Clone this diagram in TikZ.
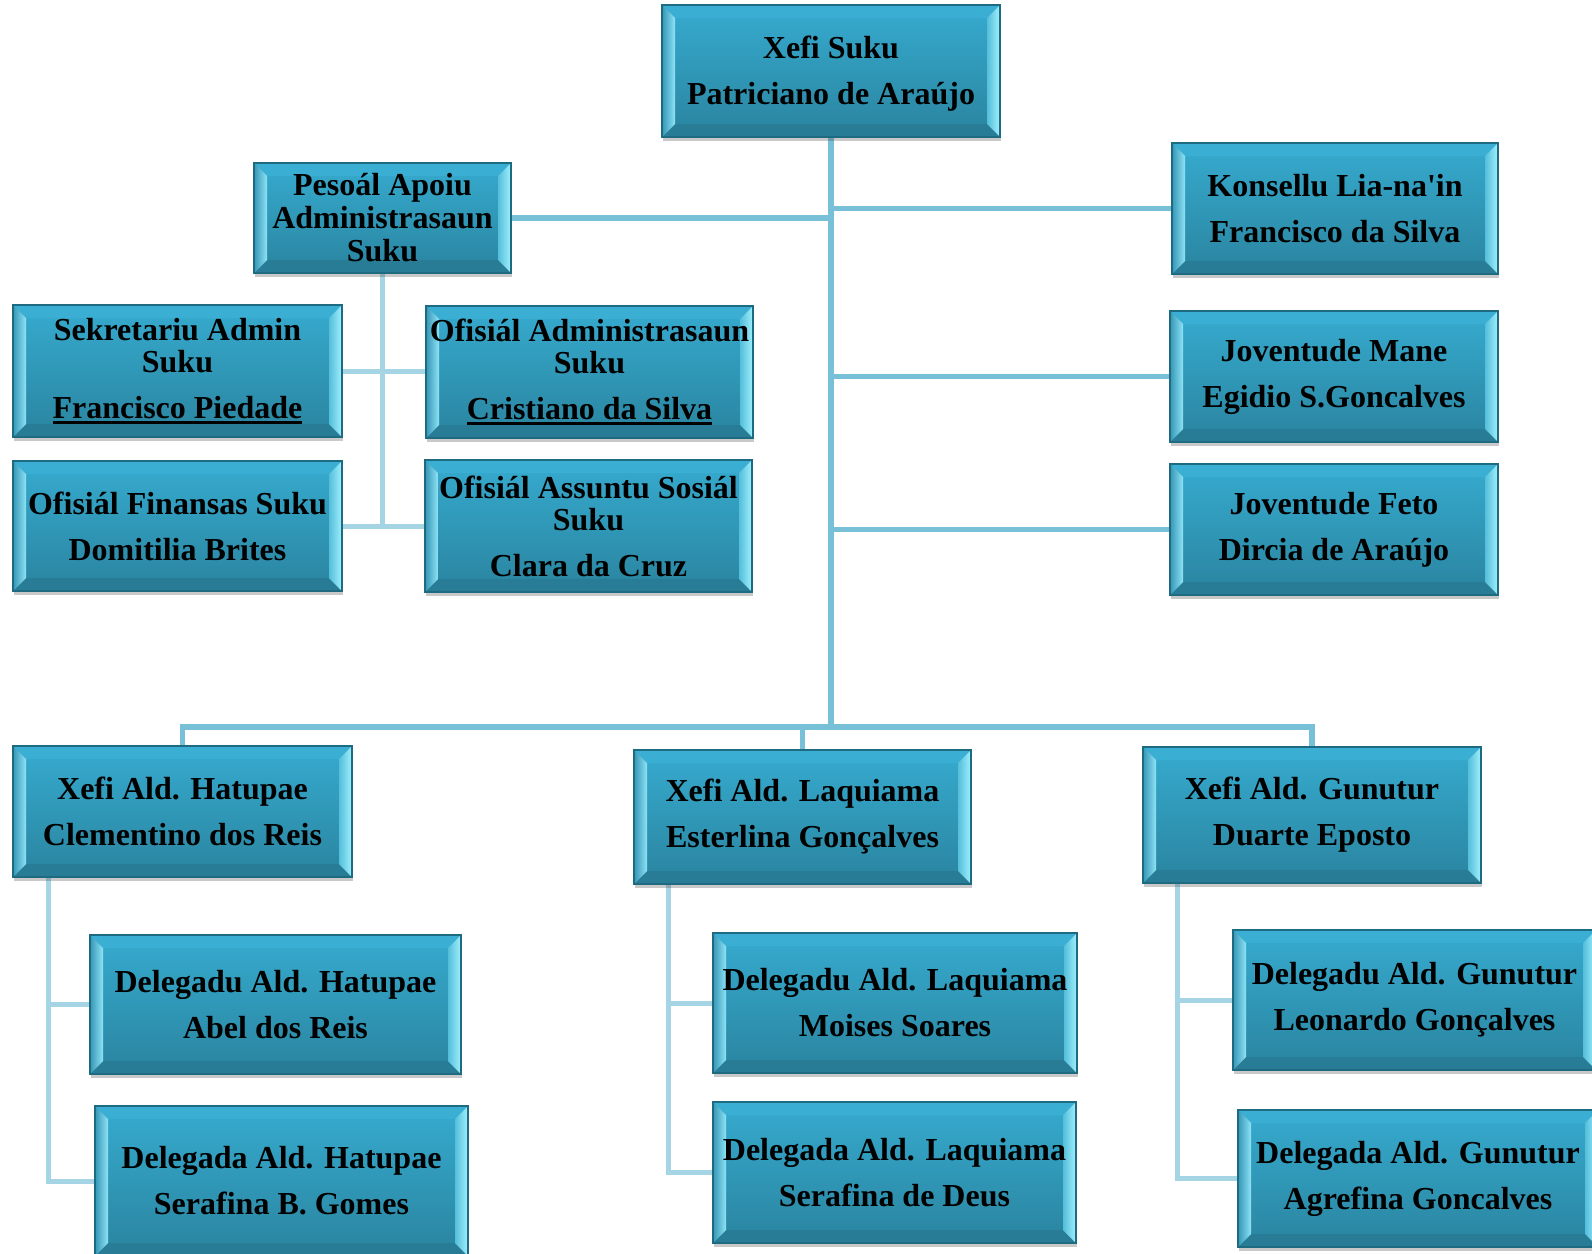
\documentclass[tikz,border=0pt]{standalone}
\usepackage{fontspec}
\setmainfont{Liberation Serif}
\usetikzlibrary{shadows,backgrounds}
\definecolor{lnmain}{HTML}{77C0D7}
\definecolor{lnsub}{HTML}{A5D4E4}
\definecolor{bxedge}{HTML}{1E6A80}
\definecolor{bxtop}{HTML}{36ABCF}
\definecolor{bxbot}{HTML}{2A849F}
\definecolor{bvtop}{HTML}{3AAFD3}
\definecolor{bvbot}{HTML}{287C95}
\definecolor{bvlo}{HTML}{3596B6}
\definecolor{bvli}{HTML}{8FE3F5}
\definecolor{bvri}{HTML}{55BEDB}
\definecolor{bvro}{HTML}{A0F0FC}
\newcommand\ulbar[1]{\setbox0=\hbox{#1}\rlap{\rule[-6pt]{\wd0}{2.8pt}}\box0}
\newcommand\straightquote{\XeTeXglyph\XeTeXcharglyph"27\relax}
\tikzset{
  bevelbox/.style 2 args={draw=bxedge, line width=1.2pt, top color=bxtop, bottom color=bxbot,
    minimum width=#1, minimum height=#2, inner sep=0pt, align=center,
    font=\bfseries\fontsize{32}{46}\selectfont,
    drop shadow={shadow xshift=1pt, shadow yshift=-4pt, opacity=0.3, fill=black!70},
    path picture={
      \path (path picture bounding box.south west) coordinate (pSW)
            (path picture bounding box.north east) coordinate (pNE);
      \path (pSW |- pNE) coordinate (pNW) (pNE |- pSW) coordinate (pSE);
      \path ([shift={(13pt,13pt)}]pSW) coordinate (qSW)
            ([shift={(-13pt,-13pt)}]pNE) coordinate (qNE);
      \path (qSW |- qNE) coordinate (qNW) (qNE |- qSW) coordinate (qSE);
      \fill[bvtop] (pNW) -- (pNE) -- (qNE) -- (qNW) -- cycle;
      \fill[bvbot] (pSW) -- (pSE) -- (qSE) -- (qSW) -- cycle;
      \shade[left color=bvlo, right color=bvli] (pSW) -- (pNW) -- (qNW) -- (qSW) -- cycle;
      \shade[left color=bvri, right color=bvro] (pSE) -- (pNE) -- (qNE) -- (qSE) -- cycle;
    }},
  mainline/.style={draw=lnmain, line width=5.5pt},
  subline/.style={draw=lnsub, line width=5pt},
}
\begin{document}
\begin{tikzpicture}[x=1pt,y=-1pt]
\useasboundingbox (0,0) rectangle (1592,1253);
% boxes
\node[bevelbox={338pt}{132pt}] (A) at (831,71) {\rule{0pt}{28pt}Xefi Suku\\Patriciano de Araújo};
\node[bevelbox={257pt}{110pt}] (B) at (382.5,218) {Pesoál Apoiu\\[-13pt]Administrasaun\\[-13pt]Suku};
\node[bevelbox={326pt}{131pt}] (C) at (1335,208.5) {Konsellu Lia-na\straightquote in\\Francisco da Silva};
\node[bevelbox={329pt}{132pt}] (D) at (177.5,371) {Sekretariu Admin\\[-14pt]Suku\\\ulbar{Francisco Piedade}};
\node[bevelbox={329pt}{130pt}] (E) at (177.5,526) {Ofisiál Finansas Suku\\Domitilia Brites};
\node[bevelbox={327pt}{132pt}] (F) at (589.5,372) {Ofisiál Administrasaun\\[-14pt]Suku\\\ulbar{Cristiano da Silva}};
\node[bevelbox={327pt}{132pt}] (G) at (588.5,526) {Ofisiál Assuntu Sosiál\\[-14pt]Suku\\Clara da Cruz};
\node[bevelbox={328pt}{131pt}] (H) at (1334,376.5) {Joventude Mane\\Egidio S.Goncalves};
\node[bevelbox={328pt}{131pt}] (I) at (1334,529.5) {Joventude Feto\\Dircia de Araújo};
\node[bevelbox={339pt}{131pt}] (J) at (182.5,811.5) {Xefi Ald. Hatupae\\Clementino dos Reis};
\node[bevelbox={337pt}{134pt}] (K) at (802.5,817) {Xefi Ald. Laquiama\\Esterlina Gonçalves};
\node[bevelbox={338pt}{136pt}] (L) at (1312,815) {Xefi Ald. Gunutur\\Duarte Eposto};
\node[bevelbox={371pt}{139pt}] (M) at (275.5,1004.5) {Delegadu Ald. Hatupae\\Abel dos Reis};
\node[bevelbox={373pt}{150pt}] (N) at (281.5,1181) {Delegada Ald. Hatupae\\Serafina B. Gomes};
\node[bevelbox={364pt}{140pt}] (O) at (895,1003) {Delegadu Ald. Laquiama\\Moises Soares};
\node[bevelbox={363pt}{141pt}] (P) at (894.5,1172.5) {Delegada Ald. Laquiama\\Serafina de Deus};
\node[bevelbox={363pt}{140pt}] (Q) at (1414.5,1000) {Delegadu Ald. Gunutur\\Leonardo Gonçalves};
\node[bevelbox={360pt}{137pt}] (R) at (1418,1178.5) {Delegada Ald. Gunutur\\Agrefina Goncalves};
% junction coordinates
\coordinate (bus) at (831,727);
\coordinate (jv) at (48,877);
\coordinate (kv) at (668,884);
\coordinate (lv) at (1177,883);
\begin{scope}[on background layer]
  \draw[mainline] (A.south) -- (bus);
  \draw[mainline] (A.south |- B.east) -- (B.east);
  \draw[mainline] (A.south |- C.west) -- (C.west);
  \draw[mainline] (A.south |- H.west) -- (H.west);
  \draw[mainline] (A.south |- I.west) -- (I.west);
  \draw[mainline] (J.north) |- (bus) -| (L.north);
  \draw[mainline] (K.north) |- (bus);
  \draw[subline] (B.south) -- (B.south |- E.east);
  \draw[subline] (D.east) -- (D.east -| F.west);
  \draw[subline] (E.east) -- (E.east -| G.west);
  \draw[subline] (jv) |- (N.west);
  \draw[subline] (jv |- M.west) -- (M.west);
  \draw[subline] (kv) |- (P.west);
  \draw[subline] (kv |- O.west) -- (O.west);
  \draw[subline] (lv) |- (R.west);
  \draw[subline] (lv |- Q.west) -- (Q.west);
\end{scope}
\end{tikzpicture}
\end{document}
